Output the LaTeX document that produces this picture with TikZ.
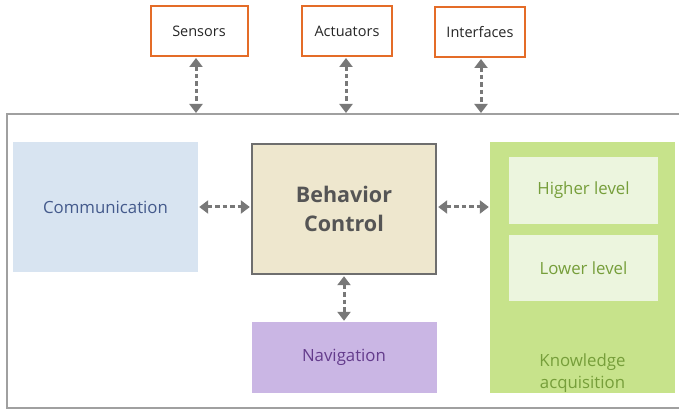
\documentclass[tikz,border=0pt]{standalone}
\usepackage{fontspec}
\setmainfont{Open Sans}
\usetikzlibrary{arrows.meta}
\definecolor{orangeb}{RGB}{228,108,40}
\definecolor{arrowg}{RGB}{120,120,120}
\definecolor{frameg}{RGB}{160,160,160}
\definecolor{commfill}{RGB}{216,228,241}
\definecolor{commtext}{RGB}{68,90,140}
\definecolor{bcfill}{RGB}{238,231,206}
\definecolor{bcdraw}{RGB}{110,110,110}
\definecolor{bctext}{RGB}{85,85,85}
\definecolor{kfill}{RGB}{199,227,139}
\definecolor{kinner}{RGB}{236,245,222}
\definecolor{ktext}{RGB}{118,158,58}
\definecolor{navfill}{RGB}{202,182,228}
\definecolor{navtext}{RGB}{100,60,140}
\tikzset{
  topbox/.style={draw=orangeb, line width=2pt, fill=white, minimum width=#1, minimum height=50pt, inner sep=0pt, font=\fontsize{14.5}{17}\selectfont, text=black!85},
  area/.style={inner sep=0pt, minimum width=185pt},
  labelfont/.style={font=\fontsize{16.8}{20}\selectfont},
  link/.style={draw=arrowg, line width=3pt, dash pattern=on 4.5pt off 3pt, {Triangle[width=13pt,length=9pt]}-{Triangle[width=13pt,length=9pt]}, shorten <=1pt, shorten >=1pt},
}
\begin{document}
\begin{tikzpicture}[x=1pt,y=-1pt]
\useasboundingbox (0,0) rectangle (679,411);
\fill[white] (0,0) rectangle (679,411);
% outer frame
\draw[frameg, line width=1.3pt] (700,114) -- (7,114) -- (7,408) -- (700,408);
% top boxes
\node[topbox=97pt] (sen) at (199,31) {\raisebox{-2pt}{Sensors}};
\node[topbox=90pt] (act) at (347,31) {\raisebox{-2pt}{Actuators}};
\node[topbox=90pt] (int) at (480,32) {\raisebox{-2pt}{Interfaces}};
\coordinate (fs) at (196,114);
\coordinate (fa) at (346,114);
\coordinate (fi) at (481,114);
% main areas
\node[area, fill=commfill, minimum height=130pt, text=commtext, labelfont] (com) at (105.5,207) {\raisebox{-1pt}{Communication}};
\node[area, fill=bcfill, draw=bcdraw, line width=2.4pt, minimum width=184pt, minimum height=130pt, text=bctext, font=\fontsize{21.5}{29}\selectfont\bfseries, align=center] (bc) at (344,209) {Behavior\\Control};
\node[area, fill=navfill, minimum height=71pt, text=navtext, labelfont] (nav) at (344,357.5) {\raisebox{-1pt}{Navigation}};
\node[area, fill=kfill, minimum height=251pt] (kn) at (582.5,267.5) {};
\node[inner sep=0pt, fill=kinner, minimum width=149pt, minimum height=67pt, text=ktext, labelfont] (hi) at (583.5,190.5) {\raisebox{-2pt}{Higher level}};
\node[inner sep=0pt, fill=kinner, minimum width=149pt, minimum height=66pt, text=ktext, labelfont] (lo) at (583.5,268) {\raisebox{-1pt}{Lower level}};
\node[text=ktext, font=\fontsize{16.8}{22}\selectfont, align=center, inner sep=0pt] (kl) at (582.5,373) {Knowledge\\acquisition};
% connectors
\draw[link] (sen.south -| fs) -- (fs);
\draw[link] (act.south -| fa) -- (fa);
\draw[link] (int.south -| fi) -- (fi);
\draw[link] (com.east) -- (bc.west |- com.east);
\draw[link] (bc.east |- com.east) -- (kn.west |- com.east);
\draw[link] (bc.south) -- (nav.north);
\end{tikzpicture}
\end{document}
